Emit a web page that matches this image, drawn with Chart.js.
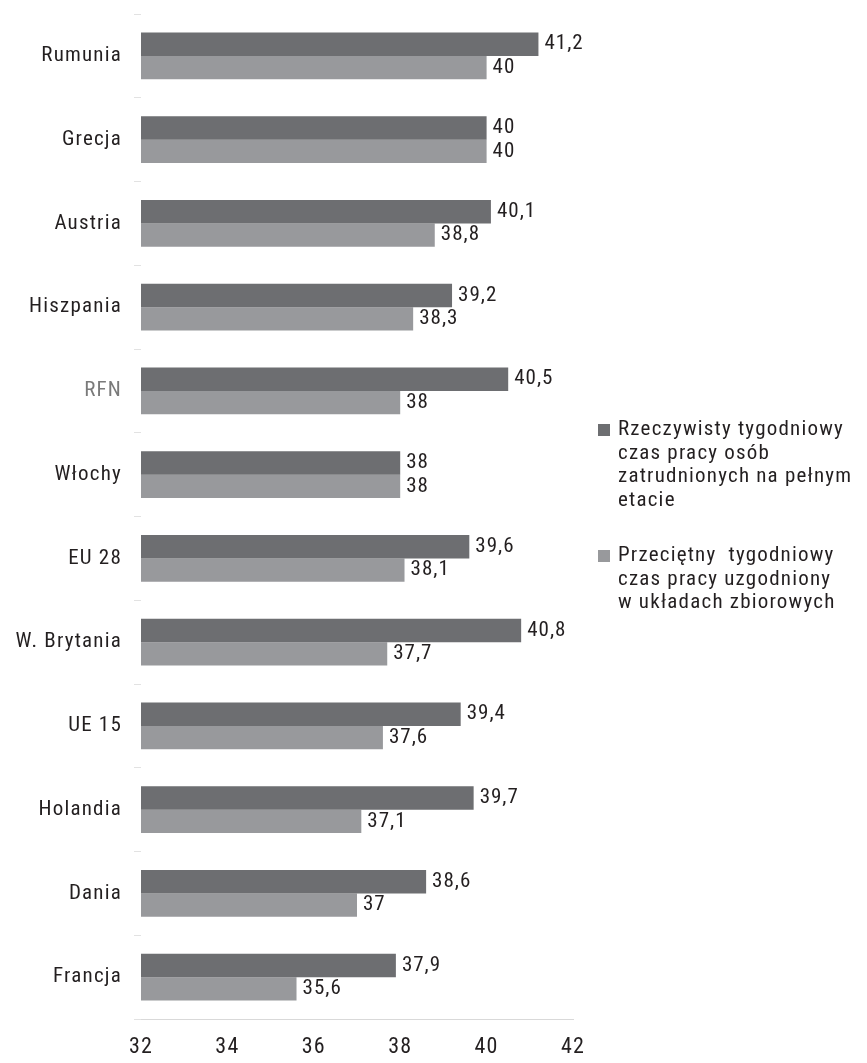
<!DOCTYPE html>
<html>
<head>
<meta charset="utf-8">
<script src="https://cdn.jsdelivr.net/npm/chart.js@4/dist/chart.umd.min.js"></script>
<style>
  html, body { margin: 0; padding: 0; background: #fff; }
  #wrap { position: relative; width: 867px; height: 1063px; }
  #legend { position: absolute; left: 598px; top: 417px; font-family: 'Liberation Sans Narrow', 'Roboto Condensed', Roboto, sans-serif; font-size: 21px; letter-spacing: 1.2px; color: #231f20; line-height: 23.7px; white-space: pre; }
  .item { position: relative; padding-left: 20px; margin-bottom: 31px; }
  .sw { position: absolute; left: 0; top: 7px; width: 12px; height: 12px; }
</style>
</head>
<body>
<div id="wrap">
  <canvas id="c" width="867" height="1063"></canvas>
  <div id="legend"></div>
</div>
<script>
const categories = ['Rumunia', 'Grecja', 'Austria', 'Hiszpania', 'RFN', 'Włochy', 'EU 28', 'W. Brytania', 'UE 15', 'Holandia', 'Dania', 'Francja'];
const actualHours = [41.2, 40, 40.1, 39.2, 40.5, 38, 39.6, 40.8, 39.4, 39.7, 38.6, 37.9];
const agreedHours = [40, 40, 38.8, 38.3, 38, 38, 38.1, 37.7, 37.6, 37.1, 37, 35.6];
const seriesNames = [
  ['Rzeczywisty tygodniowy', 'czas pracy osób', 'zatrudnionych na pełnym', 'etacie'],
  ['Przeciętny  tygodniowy', 'czas pracy uzgodniony', 'w układach zbiorowych']
];
const xTicks = [32, 34, 36, 38, 40, 42];

const colors = ['#6d6e71', '#98999c'];
const FONT = "'Liberation Sans Narrow', 'Roboto Condensed', Roboto, sans-serif";

const spacingPlugin = {
  id: 'spacing',
  beforeInit(chart) { chart.ctx.letterSpacing = '1.2px'; },
  beforeDraw(chart) { chart.ctx.letterSpacing = '1.2px'; }
};

const valueLabels = {
  id: 'valueLabels',
  afterDatasetsDraw(chart) {
    const ctx = chart.ctx;
    ctx.save();
    ctx.letterSpacing = '1px';
    ctx.font = '21px ' + FONT;
    ctx.fillStyle = '#231f20';
    ctx.textAlign = 'left';
    ctx.textBaseline = 'middle';
    chart.data.datasets.forEach((ds, di) => {
      chart.getDatasetMeta(di).data.forEach((bar, i) => {
        const txt = String(ds.data[i]).replace('.', ',');
        ctx.fillText(txt, bar.x + 6, bar.y);
      });
    });
    ctx.restore();
  }
};

new Chart(document.getElementById('c'), {
  type: 'bar',
  data: {
    labels: categories,
    datasets: [
      { label: seriesNames[0].join(' '), data: actualHours, backgroundColor: colors[0] },
      { label: seriesNames[1].join(' '), data: agreedHours, backgroundColor: colors[1] }
    ]
  },
  options: {
    indexAxis: 'y',
    responsive: false,
    animation: false,
    layout: { padding: { top: 14, right: 294, left: 0, bottom: 0 } },
    datasets: { bar: { categoryPercentage: 0.56, barPercentage: 1.0 } },
    plugins: { legend: { display: false }, tooltip: { enabled: false } },
    scales: {
      x: {
        min: 32, max: 42,
        afterBuildTicks(scale) { scale.ticks = xTicks.map(v => ({ value: v })); },
        afterFit(scale) { scale.height = 44; },
        grid: { display: false, drawTicks: false },
        border: { display: true, color: '#d9d9d9', width: 1 },
        ticks: { padding: 15, color: '#231f20', font: { family: FONT, size: 22 } }
      },
      y: {
        afterFit(scale) { scale.width = 141; scale.paddingTop = 0; scale.paddingBottom = 0; },
        grid: { offset: true, drawOnChartArea: false, drawTicks: true, tickLength: 7, color: '#e2e2e2' },
        border: { display: false },
        ticks: {
          padding: 12,
          color: (c) => categories[c.index] === 'RFN' ? '#7a7a7a' : '#231f20',
          font: { family: FONT, size: 21 }
        }
      }
    }
  },
  plugins: [spacingPlugin, valueLabels]
});

const legend = document.getElementById('legend');
seriesNames.forEach((lines, i) => {
  const d = document.createElement('div');
  d.className = 'item';
  d.innerHTML = '<span class="sw" style="background:' + colors[i] + '"></span>' + lines.join('\n');
  legend.appendChild(d);
});
</script>
</body>
</html>
